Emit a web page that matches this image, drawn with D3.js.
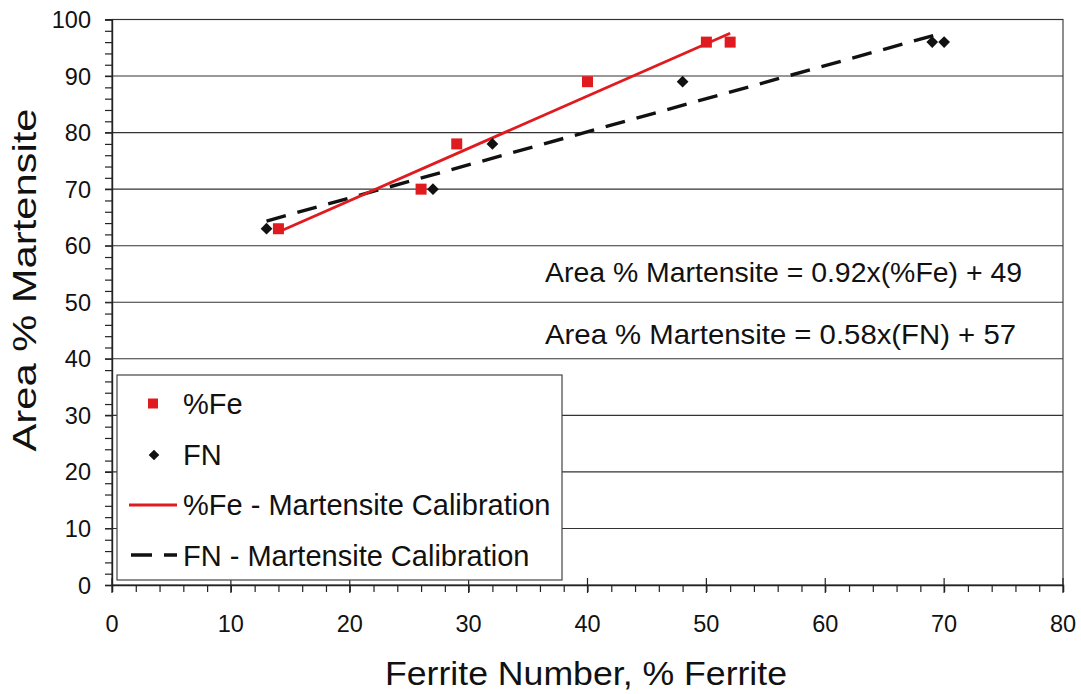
<!DOCTYPE html>
<html>
<head>
<meta charset="utf-8">
<script src="https://cdn.jsdelivr.net/npm/d3@7"></script>
<style>
  html, body { margin: 0; padding: 0; background: #ffffff; }
  svg { display: block; font-family: "Liberation Sans", Arial, sans-serif; }
</style>
</head>
<body>
<svg id="chart" width="1081" height="694"></svg>
<script>
// Calibration samples: %Fe measurement and Ferrite Number vs. area % martensite
const feX = [14, 26, 29, 40, 50, 52];
const feY = [63, 70, 78, 89, 96, 96];
const fnX = [13, 27, 32, 48, 69, 70];
const fnY = [63, 70, 78, 89, 96, 96];

const xTicks = [0, 10, 20, 30, 40, 50, 60, 70, 80];
const yTicks = [0, 10, 20, 30, 40, 50, 60, 70, 80, 90, 100];

const RED = "#e01b1f";
const INK = "#111111";

const svg = d3.select("#chart");
const plotL = 112, plotR = 1063, plotT = 19.5, plotB = 585;

const x = d3.scaleLinear().domain([0, 80]).range([plotL, plotR]);
const y = d3.scaleLinear().domain([0, 100]).range([plotB, plotT]);

// least-squares line through a series
function fit(xs, ys) {
  const n = xs.length;
  const mx = d3.mean(xs), my = d3.mean(ys);
  let sxy = 0, sxx = 0;
  for (let i = 0; i < n; i++) { sxy += (xs[i] - mx) * (ys[i] - my); sxx += (xs[i] - mx) ** 2; }
  const slope = sxy / sxx;
  return { slope, intercept: my - slope * mx, x0: d3.min(xs), x1: d3.max(xs) };
}
const feFit = fit(feX, feY);
const fnFit = fit(fnX, fnY);

// plot frame
svg.append("rect")
  .attr("x", plotL).attr("y", plotT)
  .attr("width", plotR - plotL).attr("height", plotB - plotT)
  .attr("fill", "#ffffff").attr("stroke", "#444").attr("stroke-width", 1.2);

// horizontal gridlines
svg.append("g").selectAll("line").data(yTicks.filter(d => d > 0)).join("line")
  .attr("x1", plotL - 7).attr("x2", plotR)
  .attr("y1", d => y(d)).attr("y2", d => y(d))
  .attr("stroke", "#333").attr("stroke-width", 1.1);

// y axis with minor ticks
const yAxis = svg.append("g").attr("transform", `translate(${plotL},0)`)
  .call(d3.axisLeft(y).tickValues(d3.range(0, 101, 2)).tickSize(7).tickFormat(() => ""));
yAxis.select(".domain").attr("stroke", "#222").attr("stroke-width", 1.4);
yAxis.selectAll(".tick line").attr("stroke", "#222").attr("stroke-width", 1.2);
svg.append("g").selectAll("text").data(yTicks).join("text")
  .attr("x", plotL - 21).attr("y", d => y(d) + 8.5)
  .attr("text-anchor", "end").attr("font-size", 23.5).attr("fill", INK)
  .text(d => d);

// x axis with minor ticks below, major ticks crossing
const xAxis = svg.append("g").attr("transform", `translate(0,${plotB})`)
  .call(d3.axisBottom(x).tickValues(d3.range(0, 81, 2)).tickSize(7).tickFormat(() => ""));
xAxis.select(".domain").attr("stroke", "#222").attr("stroke-width", 1.4);
xAxis.selectAll(".tick line").attr("stroke", "#222").attr("stroke-width", 1.2);
svg.append("g").selectAll("line").data(xTicks).join("line")
  .attr("x1", d => x(d)).attr("x2", d => x(d))
  .attr("y1", plotB - 7).attr("y2", plotB + 8)
  .attr("stroke", "#222").attr("stroke-width", 1.2);
svg.append("g").selectAll("text").data(xTicks).join("text")
  .attr("x", d => x(d)).attr("y", plotB + 47)
  .attr("text-anchor", "middle").attr("font-size", 23.5).attr("fill", INK)
  .text(d => d);

// axis titles
svg.append("text")
  .attr("transform", `translate(36,280) rotate(-90)`)
  .attr("text-anchor", "middle").attr("font-size", 33).attr("fill", INK)
  .attr("textLength", 343).attr("lengthAdjust", "spacingAndGlyphs")
  .text("Area % Martensite");
svg.append("text")
  .attr("x", 586).attr("y", 685)
  .attr("text-anchor", "middle").attr("font-size", 33).attr("fill", INK)
  .attr("textLength", 402).attr("lengthAdjust", "spacingAndGlyphs")
  .text("Ferrite Number, % Ferrite");

// trend lines
const line = d3.line().x(d => x(d[0])).y(d => y(d[1]));
function ends(f) { return [[f.x0, f.slope * f.x0 + f.intercept], [f.x1, f.slope * f.x1 + f.intercept]]; }
svg.append("path").attr("d", line(ends(fnFit)))
  .attr("fill", "none").attr("stroke", INK).attr("stroke-width", 3.4)
  .attr("stroke-dasharray", "20,12");
svg.append("path").attr("d", line(ends(feFit)))
  .attr("fill", "none").attr("stroke", RED).attr("stroke-width", 2.8);

// data markers
const diamond = d3.symbol().type(d3.symbolDiamond2).size(88);
svg.append("g").selectAll("path").data(d3.zip(fnX, fnY)).join("path")
  .attr("transform", d => `translate(${x(d[0])},${y(d[1])})`)
  .attr("d", diamond).attr("fill", INK);
svg.append("g").selectAll("rect").data(d3.zip(feX, feY)).join("rect")
  .attr("x", d => x(d[0]) - 5.5).attr("y", d => y(d[1]) - 5.5)
  .attr("width", 11).attr("height", 11).attr("fill", RED);

// fitted equations
const eqs = [
  `Area % Martensite = ${feFit.slope.toFixed(2)}x(%Fe) + ${Math.round(feFit.intercept)}`,
  `Area % Martensite = ${fnFit.slope.toFixed(2)}x(FN) + ${Math.round(fnFit.intercept)}`
];
const eqLen = [477, 471];
svg.append("g").selectAll("text").data(eqs).join("text")
  .attr("x", 545).attr("y", (d, i) => 282 + i * 62)
  .attr("font-size", 27.5).attr("fill", INK)
  .attr("textLength", (d, i) => eqLen[i]).attr("lengthAdjust", "spacingAndGlyphs")
  .text(d => d);

// legend
const lg = svg.append("g");
lg.append("rect").attr("x", 117).attr("y", 375).attr("width", 445).attr("height", 205)
  .attr("fill", "#ffffff").attr("stroke", "#444").attr("stroke-width", 1.2);
const legendItems = ["%Fe", "FN", "%Fe - Martensite Calibration", "FN - Martensite Calibration"];
lg.selectAll("text").data(legendItems).join("text")
  .attr("x", 183).attr("y", (d, i) => 414 + i * 50.5)
  .attr("font-size", 29).attr("fill", INK)
  .text(d => d);
lg.append("rect").attr("x", 148).attr("y", 398.5).attr("width", 10).attr("height", 10).attr("fill", RED);
lg.append("path").attr("transform", "translate(154,455)").attr("d", d3.symbol().type(d3.symbolDiamond2).size(72)).attr("fill", INK);
lg.append("line").attr("x1", 129).attr("x2", 177).attr("y1", 505).attr("y2", 505)
  .attr("stroke", RED).attr("stroke-width", 2.8);
lg.append("line").attr("x1", 131).attr("x2", 177).attr("y1", 555).attr("y2", 555)
  .attr("stroke", INK).attr("stroke-width", 3.4).attr("stroke-dasharray", "21,12");
</script>
</body>
</html>
